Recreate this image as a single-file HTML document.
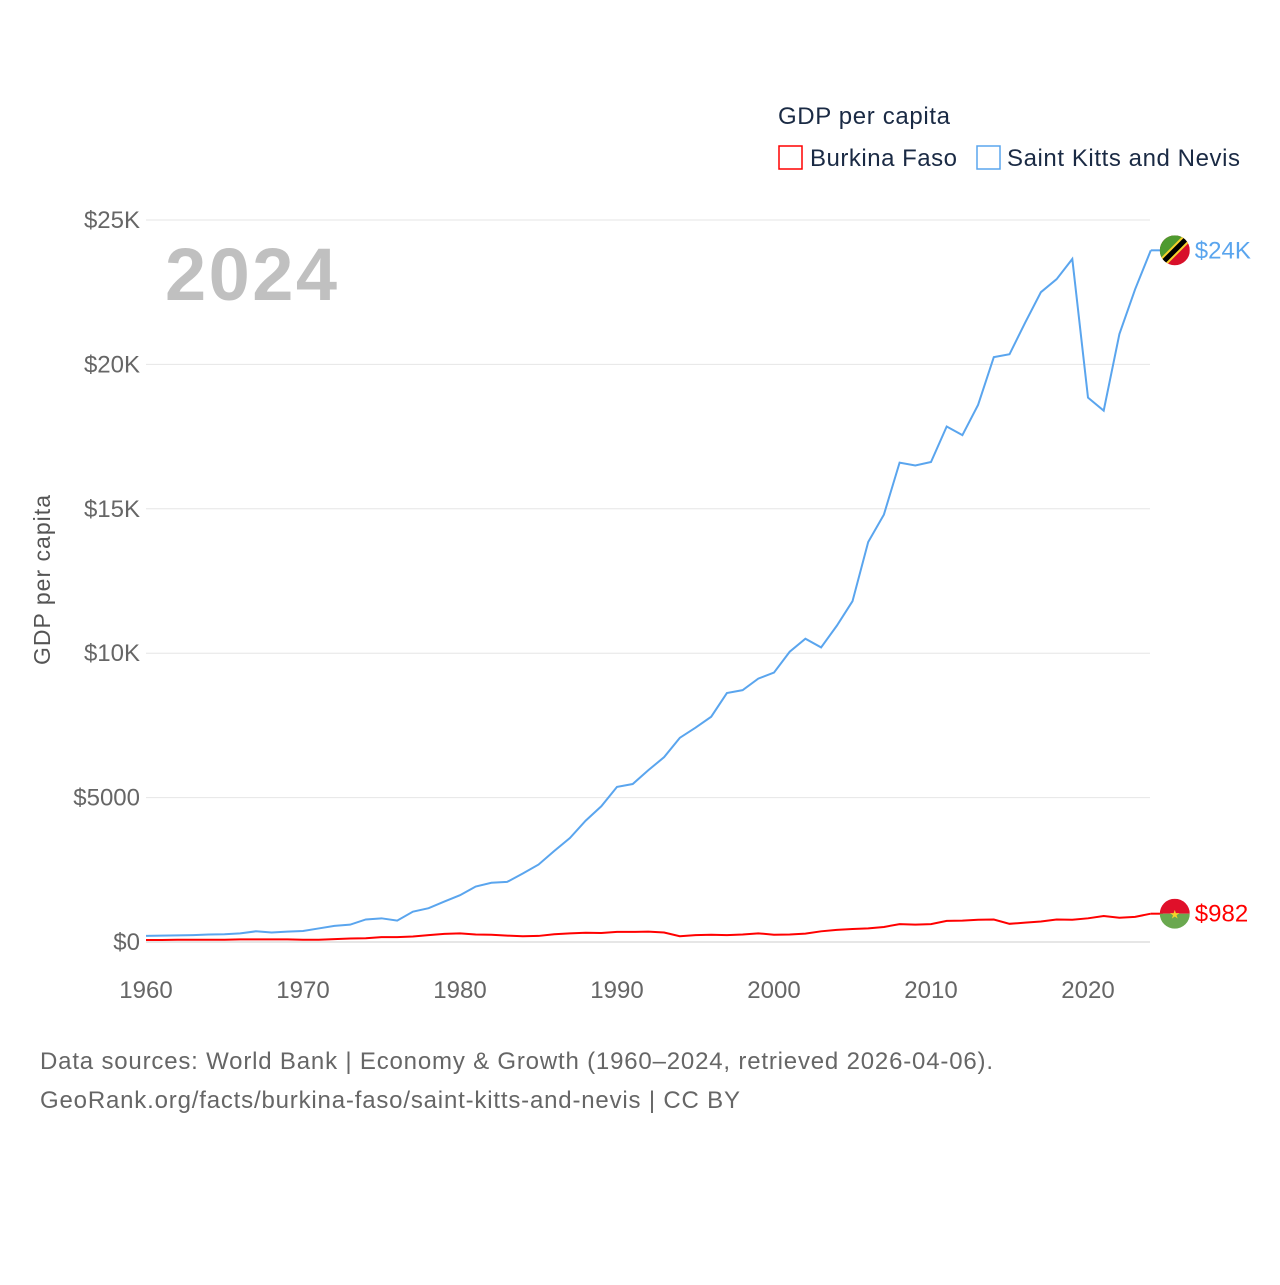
<!DOCTYPE html>
<html><head><meta charset="utf-8">
<style>
body{margin:0;background:#fff;font-family:"Liberation Sans",sans-serif;}
svg text{font-family:"Liberation Sans",sans-serif;}
</style></head>
<body>
<svg id="chart" width="1280" height="1280" xmlns="http://www.w3.org/2000/svg">
<text x="778" y="124" font-size="24" fill="#1a2a44" textLength="172">GDP per capita</text>
<g>
<rect x="779" y="146" width="23" height="23" fill="none" stroke="#ff0000" stroke-width="1.5"/>
<text x="810" y="166" font-size="24" fill="#1a2a44" textLength="147">Burkina Faso</text></g>
<g>
<rect x="977" y="146" width="23" height="23" fill="none" stroke="#5aa5ee" stroke-width="1.5"/>
<text x="1007" y="166" font-size="24" fill="#1a2a44" textLength="233">Saint Kitts and Nevis</text></g>
<text x="165" y="300" font-size="74" font-weight="bold" fill="#c0c0c0" textLength="172">2024</text>
<text transform="translate(50,580) rotate(-90)" text-anchor="middle" font-size="23" fill="#555" textLength="170">GDP per capita</text>
<g id="grid"></g><g id="ylab"></g><g id="xlab"></g><g id="lines"></g>
<text x="40" y="1069" font-size="24" fill="#666" textLength="953">Data sources: World Bank | Economy &amp; Growth (1960–2024, retrieved 2026-04-06).</text>
<text x="40" y="1108" font-size="24" fill="#666" textLength="700">GeoRank.org/facts/burkina-faso/saint-kitts-and-nevis | CC BY</text>
</svg>
<script>
const years=[];for(let y=1960;y<=2024;y++)years.push(y);
const kitts=[0.21,0.22,0.23,0.24,0.26,0.27,0.3,0.37,0.33,0.36,0.38,0.47,0.56,0.6,0.78,0.82,0.74,1.05,1.17,1.4,1.62,1.92,2.05,2.08,2.37,2.68,3.15,3.6,4.2,4.7,5.37,5.47,5.95,6.4,7.07,7.42,7.8,8.62,8.72,9.12,9.33,10.05,10.5,10.2,10.95,11.8,13.85,14.8,16.6,16.5,16.62,17.85,17.55,18.6,20.25,20.35,21.45,22.5,22.95,23.65,18.85,18.4,21.05,22.6,23.95];
const burkina=[0.07,0.07,0.08,0.08,0.08,0.08,0.09,0.09,0.09,0.09,0.08,0.08,0.1,0.12,0.13,0.17,0.17,0.19,0.24,0.28,0.3,0.26,0.25,0.22,0.2,0.21,0.27,0.3,0.32,0.31,0.35,0.35,0.36,0.33,0.2,0.24,0.25,0.24,0.26,0.3,0.25,0.26,0.29,0.37,0.42,0.45,0.47,0.52,0.62,0.6,0.62,0.73,0.74,0.77,0.78,0.63,0.67,0.71,0.78,0.77,0.82,0.9,0.84,0.87,0.98];
const yTicks=[0,5,10,15,20,25];
const yTickLabels=["$0","$5000","$10K","$15K","$20K","$25K"];
const xTicks=[1960,1970,1980,1990,2000,2010,2020];
const endLabels=["$24K","$982"];
const X=y=>146+(y-1960)*15.7, Y=v=>942-v*28.88;
const NS="http://www.w3.org/2000/svg";
function mk(t,a,p){const e=document.createElementNS(NS,t);for(const k in a)e.setAttribute(k,a[k]);document.getElementById(p).appendChild(e);return e;}
yTicks.forEach((v,i)=>{
 const l=mk('line',{x1:146,x2:1150,y1:Y(v),y2:Y(v),stroke:v==0?'#ccc':'#e6e6e6'},'grid');
 
 
 const t=mk('text',{x:140,y:Y(v)+8,'text-anchor':'end','font-size':24,fill:'#666'},'ylab');t.textContent=yTickLabels[i];
 
 
});
xTicks.forEach(v=>{const t=mk('text',{x:X(v),y:998,'text-anchor':'middle','font-size':24,fill:'#666'},'xlab');t.textContent=v;
 
 });
function line(d,c,name){const p=mk('path',{d:d.map((v,i)=>(i?'L':'M')+X(years[i])+','+Y(v)).join(''),fill:'none',stroke:c,'stroke-width':2},'lines');
 
 }
line(kitts,'#5aa5ee','line-saint-kitts');
line(burkina,'#ff0000','line-burkina-faso');
const xe=X(2024);
const ky=Y(kitts[kitts.length-1]), by=Y(burkina[burkina.length-1]);
mk('line',{x1:xe,x2:xe+12,y1:ky,y2:ky,stroke:'#5aa5ee','stroke-width':2},'lines');
mk('line',{x1:xe,x2:xe+12,y1:by,y2:by,stroke:'#ff0000','stroke-width':2},'lines');
const g1=mk('g',{},'lines');g1.innerHTML=`<clipPath id="c1"><circle cx="${xe+24}" cy="${ky}" r="15"/></clipPath><g clip-path="url(#c1)"><rect x="${xe+9}" y="${ky-15}" width="30" height="30" fill="#d8102a"/><polygon points="${xe+9},${ky-15} ${xe+39},${ky-15} ${xe+9},${ky+15}" fill="#4e9a2f"/><line x1="${xe+9}" y1="${ky+15}" x2="${xe+39}" y2="${ky-15}" stroke="#f6d22b" stroke-width="9"/><line x1="${xe+9}" y1="${ky+15}" x2="${xe+39}" y2="${ky-15}" stroke="#000" stroke-width="5"/></g>`;


const g2=mk('g',{},'lines');g2.innerHTML=`<clipPath id="c2"><circle cx="${xe+24}" cy="${by}" r="15"/></clipPath><g clip-path="url(#c2)"><rect x="${xe+9}" y="${by-15}" width="30" height="15" fill="#e0102a"/><rect x="${xe+9}" y="${by}" width="30" height="15" fill="#6aa84f"/><text x="${xe+24}" y="${by+5}" text-anchor="middle" font-size="12" fill="#f6d22b">★</text></g>`;


const t1=mk('text',{x:xe+44,y:ky+8,'font-size':24,fill:'#5aa5ee'},'lines');t1.textContent=endLabels[0];


const t2=mk('text',{x:xe+44,y:by+8,'font-size':24,fill:'#ff0000'},'lines');t2.textContent=endLabels[1];


</script>
</body></html>
